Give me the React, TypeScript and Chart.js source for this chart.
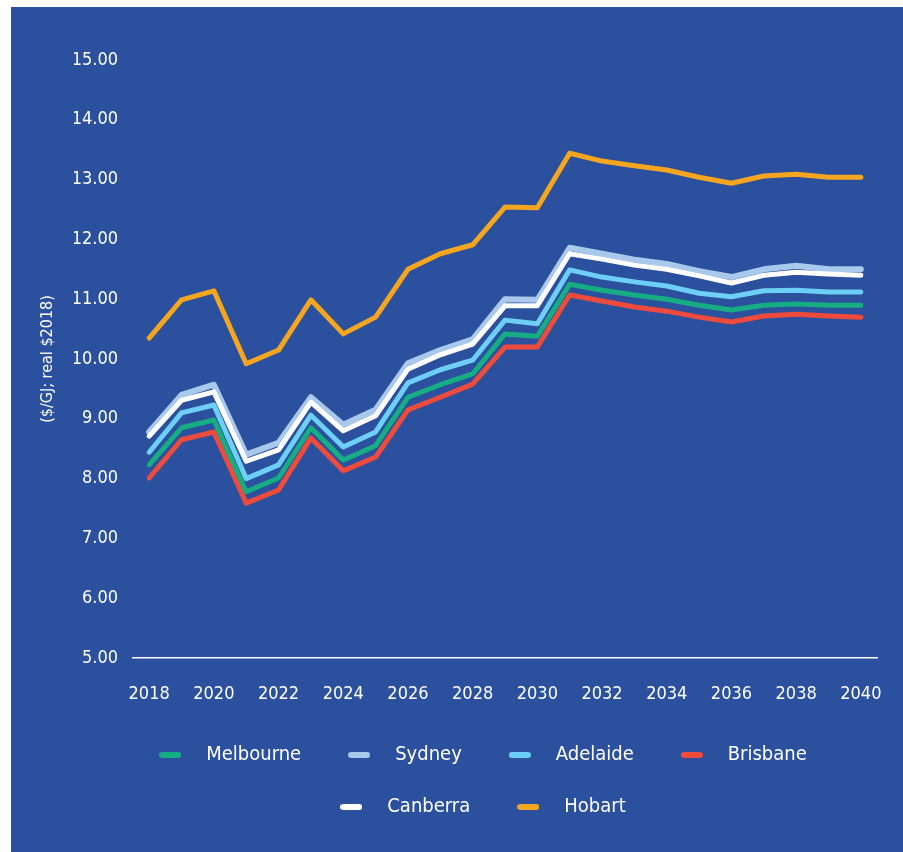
import React, { useEffect, useRef } from 'react';
import { Chart, registerables } from 'chart.js';

Chart.register(...registerables);

const years = ['2018','2019','2020','2021','2022','2023','2024','2025','2026','2027','2028','2029','2030','2031','2032','2033','2034','2035','2036','2037','2038','2039','2040'];

const melbourne = [8.23,8.85,8.98,7.78,8.01,8.85,8.31,8.55,9.36,9.57,9.75,10.42,10.38,11.25,11.15,11.07,11.00,10.90,10.82,10.90,10.92,10.90,10.90];
const sydney = [8.78,9.40,9.57,8.40,8.60,9.36,8.90,9.15,9.93,10.15,10.33,11.00,10.99,11.86,11.76,11.66,11.59,11.47,11.37,11.50,11.56,11.50,11.50];
const adelaide = [8.44,9.10,9.23,8.00,8.23,9.06,8.53,8.78,9.60,9.82,9.98,10.65,10.59,11.49,11.37,11.29,11.22,11.10,11.04,11.14,11.15,11.12,11.12];
const brisbane = [8.01,8.65,8.78,7.59,7.81,8.68,8.13,8.36,9.15,9.36,9.58,10.20,10.20,11.07,10.97,10.87,10.80,10.70,10.62,10.72,10.75,10.72,10.70];
const canberra = [8.71,9.31,9.45,8.29,8.48,9.28,8.80,9.05,9.83,10.07,10.25,10.89,10.89,11.76,11.67,11.57,11.50,11.39,11.27,11.40,11.45,11.42,11.40];
const hobart = [10.35,10.99,11.14,9.92,10.15,10.99,10.42,10.70,11.50,11.76,11.91,12.54,12.53,13.44,13.31,13.23,13.16,13.04,12.94,13.06,13.09,13.04,13.04];

const seriesNames = ['Melbourne','Sydney','Adelaide','Brisbane','Canberra','Hobart'];
const seriesData = [melbourne, sydney, adelaide, brisbane, canberra, hobart];
const seriesColors = ['#17ad83','#a9c9ec','#6dcff6','#ef4b3c','#ffffff','#f6a51e'];
const seriesWidths = [5, 6, 5, 5, 5, 5];
const seriesOrder = [1, 2, 1, 1, 0, 1];

const BG = '#2b509d';
const FONT = "'Liberation Sans Narrow', 'DejaVu Sans Condensed', 'Roboto Condensed', Roboto, sans-serif";

function makeMarker(color: string) {
  const c = document.createElement('canvas');
  c.width = 22;
  c.height = 6;
  const ctx = c.getContext('2d')!;
  ctx.fillStyle = color;
  ctx.beginPath();
  (ctx as any).roundRect(0, 0, 22, 6, 3);
  ctx.fill();
  return c;
}

export default function App() {
  const ref = useRef<HTMLCanvasElement>(null);
  useEffect(() => {
    if (!ref.current) return;
    const markers = seriesColors.map(makeMarker);
    const chart = new Chart(ref.current, {
      type: 'line',
      data: {
        labels: years,
        datasets: seriesNames.map((name, i) => ({
          label: name,
          data: seriesData[i],
          borderColor: seriesColors[i],
          backgroundColor: seriesColors[i],
          borderWidth: seriesWidths[i],
          pointRadius: 0,
          tension: 0,
          borderCapStyle: 'round' as const,
          borderJoinStyle: 'round' as const,
          fill: false,
          order: seriesOrder[i],
        })),
      },
      options: {
        responsive: false,
        animation: false,
        layout: { padding: { left: 63, right: 26, top: 53, bottom: 25 } },
        font: { family: FONT },
        plugins: {
          tooltip: { enabled: false },
          legend: {
            position: 'bottom',
            labels: {
              color: '#ffffff',
              font: { family: FONT, size: 20 },
              padding: 32,
              usePointStyle: true,
              pointStyleWidth: 52,
              sort: (a: any, b: any) => a.datasetIndex - b.datasetIndex,
              generateLabels: (chart: any) => {
                const items = Chart.defaults.plugins.legend.labels.generateLabels(chart);
                return items.map((it: any) => ({ ...it, pointStyle: markers[it.datasetIndex], fontColor: '#ffffff' }));
              },
            },
          },
        },
        scales: {
          x: {
            offset: true,
            grid: { display: false, drawTicks: true, tickLength: 20 },
            border: { display: true, color: '#ffffff', width: 1.5 },
            ticks: {
              color: '#ffffff',
              font: { family: FONT, size: 18 },
              autoSkip: false,
              maxRotation: 0,
              padding: 6,
              callback: function (this: any, val: any, idx: number) {
                return idx % 2 === 0 ? this.getLabelForValue(val) : '';
              },
            },
            afterFit: (scale: any) => { scale.height = 55; },
          },
          y: {
            min: 5,
            max: 15,
            grid: { display: false, drawTicks: false },
            border: { display: false },
            ticks: {
              stepSize: 1,
              color: '#ffffff',
              font: { family: FONT, size: 18 },
              padding: 15,
              callback: (v: any) => Number(v).toFixed(2),
            },
            title: {
              display: true,
              text: '($/GJ; real $2018)',
              color: '#ffffff',
              font: { family: FONT, size: 16 },
              padding: { top: -36, bottom: 0 },
            },
            afterFit: (scale: any) => { scale.width = 59; },
          },
        },
      },
    });
    return () => chart.destroy();
  }, []);
  return (
    <div style={{ position: 'absolute', left: 11, top: 7, width: 892, height: 845, background: BG }}>
      <canvas ref={ref} width={892} height={845} style={{ display: 'block' }} />
    </div>
  );
}
